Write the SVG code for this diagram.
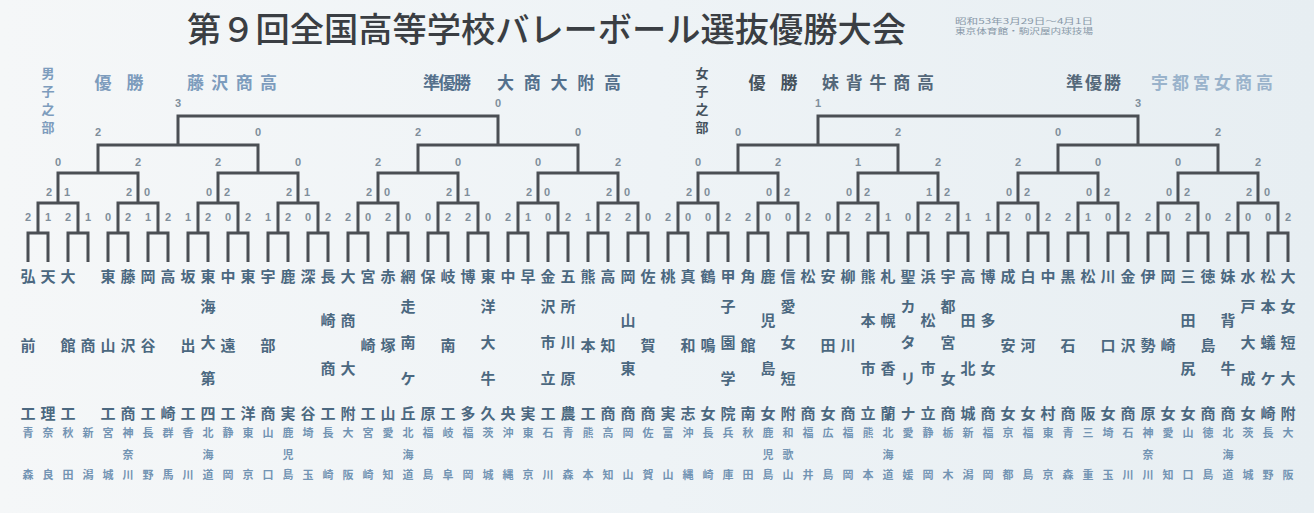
<svg xmlns="http://www.w3.org/2000/svg" width="1314" height="513" viewBox="0 0 1314 513">
<defs>
<linearGradient id="bg" x1="0" y1="0" x2="1" y2="0">
<stop offset="0" stop-color="#f5f7f8"/>
<stop offset="0.5" stop-color="#eef3f6"/>
<stop offset="1" stop-color="#e7eef2"/>
</linearGradient>
</defs>
<style>
.ti{font-family:"Noto Sans CJK JP","Noto Sans CJK SC",sans-serif;font-weight:500;fill:#3a3e43}
.hd{font-family:"Noto Sans CJK JP","Noto Sans CJK SC",sans-serif;font-weight:700;font-size:17px}
.hv{font-family:"Noto Sans CJK JP","Noto Sans CJK SC",sans-serif;font-weight:700;font-size:13px;text-anchor:middle}
.sm{font-family:"Noto Sans CJK JP","Noto Sans CJK SC",sans-serif;font-size:7.5px;fill:#8898a8}
.n{font-family:"Noto Sans CJK JP","Noto Sans CJK SC",sans-serif;font-weight:700;font-size:15px;fill:#4b6880;text-anchor:middle}
.p{font-family:"Noto Sans CJK JP","Noto Sans CJK SC",sans-serif;font-weight:700;font-size:11px;fill:#7394b3;text-anchor:middle}
.s{font-family:"Liberation Sans",sans-serif;font-weight:700;font-size:11px;fill:#7f8e9b;text-anchor:middle}
.ln{fill:none;stroke:#4b4f54;stroke-width:3;stroke-linejoin:miter}
.c{text-anchor:middle}
</style>
<rect width="1314" height="513" fill="url(#bg)"/>

<g id="title">
<text class="ti" x="187" y="42" font-size="34" textLength="719" lengthAdjust="spacingAndGlyphs">第９回全国高等学校バレーボール選抜優勝大会</text>
<text class="sm" x="955" y="24" textLength="138" lengthAdjust="spacingAndGlyphs">昭和53年3月29日～4月1日</text>
<text class="sm" x="955" y="34" textLength="138" lengthAdjust="spacingAndGlyphs">東京体育館・駒沢屋内球技場</text>
</g>

<g id="header-boys">
<text class="hv" fill="#7d9cbd"><tspan x="48" y="78">男</tspan><tspan x="48" y="96">子</tspan><tspan x="48" y="114">之</tspan><tspan x="48" y="132">部</tspan></text>
<text class="hd c" x="103" y="89" fill="#7d9cbd">優</text>
<text class="hd c" x="135" y="89" fill="#7d9cbd">勝</text>
<text class="hd" x="187" y="89" fill="#7d9cbd" textLength="90">藤沢商高</text>
<text class="hd" x="423" y="89" fill="#54708c" textLength="48">準優勝</text>
<text class="hd" x="497" y="89" fill="#54708c" textLength="124">大商大附高</text>
</g>
<g id="header-girls">
<text class="hv" fill="#45525d"><tspan x="702" y="78">女</tspan><tspan x="702" y="96">子</tspan><tspan x="702" y="114">之</tspan><tspan x="702" y="132">部</tspan></text>
<text class="hd c" x="757" y="89" fill="#45525d">優</text>
<text class="hd c" x="789" y="89" fill="#45525d">勝</text>
<text class="hd" x="822" y="89" fill="#54687a" textLength="112">妹背牛商高</text>
<text class="hd" x="1066" y="89" fill="#54687a" textLength="55">準優勝</text>
<text class="hd" x="1151" y="89" fill="#9ab3cb" textLength="122">宇都宮女商高</text>
</g>

<g id="connectors" class="ln">
<path d="M28 262V233H48V262M68 262V233H88V262M108 262V233H128V262M148 262V233H168V262M188 262V233H208V262M228 262V233H248V262M268 262V233H288V262M308 262V233H328V262M348 262V233H368V262M388 262V233H408V262M428 262V233H448V262M468 262V233H488V262M508 262V233H528V262M548 262V233H568V262M588 262V233H608V262M628 262V233H648V262"/>
<path d="M668 262V233H688V262M708 262V233H728V262M748 262V233H768V262M788 262V233H808V262M828 262V233H848V262M868 262V233H888V262M908 262V233H928V262M948 262V233H968V262M988 262V233H1008V262M1028 262V233H1048V262M1068 262V233H1088V262M1108 262V233H1128V262M1148 262V233H1168V262M1188 262V233H1208V262M1228 262V233H1248V262M1268 262V233H1288V262"/>
<path d="M38 233V203H78V233M118 233V203H158V233M198 233V203H238V233M278 233V203H318V233M358 233V203H398V233M438 233V203H478V233M518 233V203H558V233M598 233V203H638V233"/>
<path d="M678 233V203H718V233M758 233V203H798V233M838 233V203H878V233M918 233V203H958V233M998 233V203H1038V233M1078 233V203H1118V233M1158 233V203H1198V233M1238 233V203H1278V233"/>
<path d="M58 203V173H138V203M218 203V173H298V203M378 203V173H458V203M538 203V173H618V203M698 203V173H778V203M858 203V173H938V203M1018 203V173H1098V203M1178 203V173H1258V203"/>
<path d="M98 173V145H258V173M418 173V145H578V173M738 173V145H898V173M1058 173V145H1218V173"/>
<path d="M178 145V116H498V145M818 145V116H1138V145"/>
</g>

<g id="scores" class="s">
<text y="107"><tspan x="178">3</tspan><tspan x="498">0</tspan><tspan x="818">1</tspan><tspan x="1138">3</tspan></text>
<text y="136"><tspan x="98">2</tspan><tspan x="258">0</tspan><tspan x="418">2</tspan><tspan x="578">0</tspan><tspan x="738">0</tspan><tspan x="898">2</tspan><tspan x="1058">0</tspan><tspan x="1218">2</tspan></text>
<text y="166"><tspan x="58">0</tspan><tspan x="138">2</tspan><tspan x="218">2</tspan><tspan x="298">0</tspan><tspan x="378">2</tspan><tspan x="458">0</tspan><tspan x="538">0</tspan><tspan x="618">2</tspan><tspan x="698">0</tspan><tspan x="778">2</tspan><tspan x="858">1</tspan><tspan x="938">2</tspan><tspan x="1018">2</tspan><tspan x="1098">0</tspan><tspan x="1178">0</tspan><tspan x="1258">2</tspan></text>
<text y="196"><tspan x="49">2</tspan><tspan x="67">1</tspan><tspan x="129">2</tspan><tspan x="147">0</tspan><tspan x="209">0</tspan><tspan x="227">2</tspan><tspan x="289">2</tspan><tspan x="307">1</tspan><tspan x="369">2</tspan><tspan x="387">0</tspan><tspan x="449">2</tspan><tspan x="467">1</tspan><tspan x="529">2</tspan><tspan x="547">0</tspan><tspan x="609">2</tspan><tspan x="627">0</tspan><tspan x="689">2</tspan><tspan x="707">0</tspan><tspan x="769">0</tspan><tspan x="787">2</tspan><tspan x="849">0</tspan><tspan x="867">2</tspan><tspan x="929">1</tspan><tspan x="947">2</tspan><tspan x="1009">0</tspan><tspan x="1027">2</tspan><tspan x="1089">0</tspan><tspan x="1107">2</tspan><tspan x="1169">0</tspan><tspan x="1187">2</tspan><tspan x="1249">2</tspan><tspan x="1267">0</tspan></text>
<text y="221"><tspan x="28">2</tspan><tspan x="48">1</tspan><tspan x="68">2</tspan><tspan x="88">1</tspan><tspan x="108">0</tspan><tspan x="128">2</tspan><tspan x="148">1</tspan><tspan x="168">2</tspan><tspan x="188">1</tspan><tspan x="208">2</tspan><tspan x="228">0</tspan><tspan x="248">2</tspan><tspan x="268">1</tspan><tspan x="288">2</tspan><tspan x="308">0</tspan><tspan x="328">2</tspan><tspan x="348">2</tspan><tspan x="368">0</tspan><tspan x="388">2</tspan><tspan x="408">0</tspan><tspan x="428">0</tspan><tspan x="448">2</tspan><tspan x="468">2</tspan><tspan x="488">0</tspan><tspan x="508">2</tspan><tspan x="528">1</tspan><tspan x="548">0</tspan><tspan x="568">2</tspan><tspan x="588">1</tspan><tspan x="608">2</tspan><tspan x="628">2</tspan><tspan x="648">0</tspan><tspan x="668">2</tspan><tspan x="688">0</tspan><tspan x="708">0</tspan><tspan x="728">2</tspan><tspan x="748">2</tspan><tspan x="768">0</tspan><tspan x="788">0</tspan><tspan x="808">2</tspan><tspan x="828">0</tspan><tspan x="848">2</tspan><tspan x="868">2</tspan><tspan x="888">1</tspan><tspan x="908">0</tspan><tspan x="928">2</tspan><tspan x="948">2</tspan><tspan x="968">1</tspan><tspan x="988">1</tspan><tspan x="1008">2</tspan><tspan x="1028">0</tspan><tspan x="1048">2</tspan><tspan x="1068">2</tspan><tspan x="1088">1</tspan><tspan x="1108">0</tspan><tspan x="1128">2</tspan><tspan x="1148">2</tspan><tspan x="1168">0</tspan><tspan x="1188">2</tspan><tspan x="1208">0</tspan><tspan x="1228">2</tspan><tspan x="1248">0</tspan><tspan x="1268">0</tspan><tspan x="1288">2</tspan></text>
</g>

<g id="b00"><text class="n"><tspan x="28" y="282">弘</tspan><tspan x="28" y="351">前</tspan><tspan x="28" y="419">工</tspan></text><text class="p"><tspan x="28" y="437">青</tspan><tspan x="28" y="479">森</tspan></text></g>
<g id="b01"><text class="n"><tspan x="48" y="282">天</tspan><tspan x="48" y="419">理</tspan></text><text class="p"><tspan x="48" y="437">奈</tspan><tspan x="48" y="479">良</tspan></text></g>
<g id="b02"><text class="n"><tspan x="68" y="282">大</tspan><tspan x="68" y="351">館</tspan><tspan x="68" y="419">工</tspan></text><text class="p"><tspan x="68" y="437">秋</tspan><tspan x="68" y="479">田</tspan></text></g>
<g id="b03"><text class="n"><tspan x="88" y="351">商</tspan></text><text class="p"><tspan x="88" y="437">新</tspan><tspan x="88" y="479">潟</tspan></text></g>
<g id="b04"><text class="n"><tspan x="108" y="282">東</tspan><tspan x="108" y="351">山</tspan><tspan x="108" y="419">工</tspan></text><text class="p"><tspan x="108" y="437">宮</tspan><tspan x="108" y="479">城</tspan></text></g>
<g id="b05"><text class="n"><tspan x="128" y="282">藤</tspan><tspan x="128" y="351">沢</tspan><tspan x="128" y="419">商</tspan></text><text class="p"><tspan x="128" y="437">神</tspan><tspan x="128" y="459">奈</tspan><tspan x="128" y="479">川</tspan></text></g>
<g id="b06"><text class="n"><tspan x="148" y="282">岡</tspan><tspan x="148" y="351">谷</tspan><tspan x="148" y="419">工</tspan></text><text class="p"><tspan x="148" y="437">長</tspan><tspan x="148" y="479">野</tspan></text></g>
<g id="b07"><text class="n"><tspan x="168" y="282">高</tspan><tspan x="168" y="419">崎</tspan></text><text class="p"><tspan x="168" y="437">群</tspan><tspan x="168" y="479">馬</tspan></text></g>
<g id="b08"><text class="n"><tspan x="188" y="282">坂</tspan><tspan x="188" y="351">出</tspan><tspan x="188" y="419">工</tspan></text><text class="p"><tspan x="188" y="437">香</tspan><tspan x="188" y="479">川</tspan></text></g>
<g id="b09"><text class="n"><tspan x="208" y="282">東</tspan><tspan x="208" y="312">海</tspan><tspan x="208" y="348">大</tspan><tspan x="208" y="384">第</tspan><tspan x="208" y="419">四</tspan></text><text class="p"><tspan x="208" y="437">北</tspan><tspan x="208" y="459">海</tspan><tspan x="208" y="479">道</tspan></text></g>
<g id="b10"><text class="n"><tspan x="228" y="282">中</tspan><tspan x="228" y="351">遠</tspan><tspan x="228" y="419">工</tspan></text><text class="p"><tspan x="228" y="437">静</tspan><tspan x="228" y="479">岡</tspan></text></g>
<g id="b11"><text class="n"><tspan x="248" y="282">東</tspan><tspan x="248" y="419">洋</tspan></text><text class="p"><tspan x="248" y="437">東</tspan><tspan x="248" y="479">京</tspan></text></g>
<g id="b12"><text class="n"><tspan x="268" y="282">宇</tspan><tspan x="268" y="351">部</tspan><tspan x="268" y="419">商</tspan></text><text class="p"><tspan x="268" y="437">山</tspan><tspan x="268" y="479">口</tspan></text></g>
<g id="b13"><text class="n"><tspan x="288" y="282">鹿</tspan><tspan x="288" y="419">実</tspan></text><text class="p"><tspan x="288" y="437">鹿</tspan><tspan x="288" y="459">児</tspan><tspan x="288" y="479">島</tspan></text></g>
<g id="b14"><text class="n"><tspan x="308" y="282">深</tspan><tspan x="308" y="419">谷</tspan></text><text class="p"><tspan x="308" y="437">埼</tspan><tspan x="308" y="479">玉</tspan></text></g>
<g id="b15"><text class="n"><tspan x="328" y="282">長</tspan><tspan x="328" y="326">崎</tspan><tspan x="328" y="374">商</tspan><tspan x="328" y="419">工</tspan></text><text class="p"><tspan x="328" y="437">長</tspan><tspan x="328" y="479">崎</tspan></text></g>
<g id="b16"><text class="n"><tspan x="348" y="282">大</tspan><tspan x="348" y="326">商</tspan><tspan x="348" y="374">大</tspan><tspan x="348" y="419">附</tspan></text><text class="p"><tspan x="348" y="437">大</tspan><tspan x="348" y="479">阪</tspan></text></g>
<g id="b17"><text class="n"><tspan x="368" y="282">宮</tspan><tspan x="368" y="351">崎</tspan><tspan x="368" y="419">工</tspan></text><text class="p"><tspan x="368" y="437">宮</tspan><tspan x="368" y="479">崎</tspan></text></g>
<g id="b18"><text class="n"><tspan x="388" y="282">赤</tspan><tspan x="388" y="351">塚</tspan><tspan x="388" y="419">山</tspan></text><text class="p"><tspan x="388" y="437">愛</tspan><tspan x="388" y="479">知</tspan></text></g>
<g id="b19"><text class="n"><tspan x="408" y="282">網</tspan><tspan x="408" y="312">走</tspan><tspan x="408" y="348">南</tspan><tspan x="408" y="384">ケ</tspan><tspan x="408" y="419">丘</tspan></text><text class="p"><tspan x="408" y="437">北</tspan><tspan x="408" y="459">海</tspan><tspan x="408" y="479">道</tspan></text></g>
<g id="b20"><text class="n"><tspan x="428" y="282">保</tspan><tspan x="428" y="419">原</tspan></text><text class="p"><tspan x="428" y="437">福</tspan><tspan x="428" y="479">島</tspan></text></g>
<g id="b21"><text class="n"><tspan x="448" y="282">岐</tspan><tspan x="448" y="351">南</tspan><tspan x="448" y="419">工</tspan></text><text class="p"><tspan x="448" y="437">岐</tspan><tspan x="448" y="479">阜</tspan></text></g>
<g id="b22"><text class="n"><tspan x="468" y="282">博</tspan><tspan x="468" y="419">多</tspan></text><text class="p"><tspan x="468" y="437">福</tspan><tspan x="468" y="479">岡</tspan></text></g>
<g id="b23"><text class="n"><tspan x="488" y="282">東</tspan><tspan x="488" y="312">洋</tspan><tspan x="488" y="348">大</tspan><tspan x="488" y="384">牛</tspan><tspan x="488" y="419">久</tspan></text><text class="p"><tspan x="488" y="437">茨</tspan><tspan x="488" y="479">城</tspan></text></g>
<g id="b24"><text class="n"><tspan x="508" y="282">中</tspan><tspan x="508" y="419">央</tspan></text><text class="p"><tspan x="508" y="437">沖</tspan><tspan x="508" y="479">縄</tspan></text></g>
<g id="b25"><text class="n"><tspan x="528" y="282">早</tspan><tspan x="528" y="419">実</tspan></text><text class="p"><tspan x="528" y="437">東</tspan><tspan x="528" y="479">京</tspan></text></g>
<g id="b26"><text class="n"><tspan x="548" y="282">金</tspan><tspan x="548" y="312">沢</tspan><tspan x="548" y="348">市</tspan><tspan x="548" y="384">立</tspan><tspan x="548" y="419">工</tspan></text><text class="p"><tspan x="548" y="437">石</tspan><tspan x="548" y="479">川</tspan></text></g>
<g id="b27"><text class="n"><tspan x="568" y="282">五</tspan><tspan x="568" y="312">所</tspan><tspan x="568" y="348">川</tspan><tspan x="568" y="384">原</tspan><tspan x="568" y="419">農</tspan></text><text class="p"><tspan x="568" y="437">青</tspan><tspan x="568" y="479">森</tspan></text></g>
<g id="b28"><text class="n"><tspan x="588" y="282">熊</tspan><tspan x="588" y="351">本</tspan><tspan x="588" y="419">工</tspan></text><text class="p"><tspan x="588" y="437">熊</tspan><tspan x="588" y="479">本</tspan></text></g>
<g id="b29"><text class="n"><tspan x="608" y="282">高</tspan><tspan x="608" y="351">知</tspan><tspan x="608" y="419">商</tspan></text><text class="p"><tspan x="608" y="437">高</tspan><tspan x="608" y="479">知</tspan></text></g>
<g id="b30"><text class="n"><tspan x="628" y="282">岡</tspan><tspan x="628" y="326">山</tspan><tspan x="628" y="374">東</tspan><tspan x="628" y="419">商</tspan></text><text class="p"><tspan x="628" y="437">岡</tspan><tspan x="628" y="479">山</tspan></text></g>
<g id="b31"><text class="n"><tspan x="648" y="282">佐</tspan><tspan x="648" y="351">賀</tspan><tspan x="648" y="419">商</tspan></text><text class="p"><tspan x="648" y="437">佐</tspan><tspan x="648" y="479">賀</tspan></text></g>

<g id="g32"><text class="n"><tspan x="668" y="282">桃</tspan><tspan x="668" y="419">実</tspan></text><text class="p"><tspan x="668" y="437">富</tspan><tspan x="668" y="479">山</tspan></text></g>
<g id="g33"><text class="n"><tspan x="688" y="282">真</tspan><tspan x="688" y="351">和</tspan><tspan x="688" y="419">志</tspan></text><text class="p"><tspan x="688" y="437">沖</tspan><tspan x="688" y="479">縄</tspan></text></g>
<g id="g34"><text class="n"><tspan x="708" y="282">鶴</tspan><tspan x="708" y="351">鳴</tspan><tspan x="708" y="419">女</tspan></text><text class="p"><tspan x="708" y="437">長</tspan><tspan x="708" y="479">崎</tspan></text></g>
<g id="g35"><text class="n"><tspan x="728" y="282">甲</tspan><tspan x="728" y="312">子</tspan><tspan x="728" y="348">園</tspan><tspan x="728" y="384">学</tspan><tspan x="728" y="419">院</tspan></text><text class="p"><tspan x="728" y="437">兵</tspan><tspan x="728" y="479">庫</tspan></text></g>
<g id="g36"><text class="n"><tspan x="748" y="282">角</tspan><tspan x="748" y="351">館</tspan><tspan x="748" y="419">南</tspan></text><text class="p"><tspan x="748" y="437">秋</tspan><tspan x="748" y="479">田</tspan></text></g>
<g id="g37"><text class="n"><tspan x="768" y="282">鹿</tspan><tspan x="768" y="326">児</tspan><tspan x="768" y="374">島</tspan><tspan x="768" y="419">女</tspan></text><text class="p"><tspan x="768" y="437">鹿</tspan><tspan x="768" y="459">児</tspan><tspan x="768" y="479">島</tspan></text></g>
<g id="g38"><text class="n"><tspan x="788" y="282">信</tspan><tspan x="788" y="312">愛</tspan><tspan x="788" y="348">女</tspan><tspan x="788" y="384">短</tspan><tspan x="788" y="419">附</tspan></text><text class="p"><tspan x="788" y="437">和</tspan><tspan x="788" y="459">歌</tspan><tspan x="788" y="479">山</tspan></text></g>
<g id="g39"><text class="n"><tspan x="808" y="282">松</tspan><tspan x="808" y="419">商</tspan></text><text class="p"><tspan x="808" y="437">福</tspan><tspan x="808" y="479">井</tspan></text></g>
<g id="g40"><text class="n"><tspan x="828" y="282">安</tspan><tspan x="828" y="351">田</tspan><tspan x="828" y="419">女</tspan></text><text class="p"><tspan x="828" y="437">広</tspan><tspan x="828" y="479">島</tspan></text></g>
<g id="g41"><text class="n"><tspan x="848" y="282">柳</tspan><tspan x="848" y="351">川</tspan><tspan x="848" y="419">商</tspan></text><text class="p"><tspan x="848" y="437">福</tspan><tspan x="848" y="479">岡</tspan></text></g>
<g id="g42"><text class="n"><tspan x="868" y="282">熊</tspan><tspan x="868" y="326">本</tspan><tspan x="868" y="374">市</tspan><tspan x="868" y="419">立</tspan></text><text class="p"><tspan x="868" y="437">熊</tspan><tspan x="868" y="479">本</tspan></text></g>
<g id="g43"><text class="n"><tspan x="888" y="282">札</tspan><tspan x="888" y="326">幌</tspan><tspan x="888" y="374">香</tspan><tspan x="888" y="419">蘭</tspan></text><text class="p"><tspan x="888" y="437">北</tspan><tspan x="888" y="459">海</tspan><tspan x="888" y="479">道</tspan></text></g>
<g id="g44"><text class="n"><tspan x="908" y="282">聖</tspan><tspan x="908" y="312">カ</tspan><tspan x="908" y="348">タ</tspan><tspan x="908" y="384">リ</tspan><tspan x="908" y="419">ナ</tspan></text><text class="p"><tspan x="908" y="437">愛</tspan><tspan x="908" y="479">媛</tspan></text></g>
<g id="g45"><text class="n"><tspan x="928" y="282">浜</tspan><tspan x="928" y="326">松</tspan><tspan x="928" y="374">市</tspan><tspan x="928" y="419">立</tspan></text><text class="p"><tspan x="928" y="437">静</tspan><tspan x="928" y="479">岡</tspan></text></g>
<g id="g46"><text class="n"><tspan x="948" y="282">宇</tspan><tspan x="948" y="312">都</tspan><tspan x="948" y="348">宮</tspan><tspan x="948" y="384">女</tspan><tspan x="948" y="419">商</tspan></text><text class="p"><tspan x="948" y="437">栃</tspan><tspan x="948" y="479">木</tspan></text></g>
<g id="g47"><text class="n"><tspan x="968" y="282">高</tspan><tspan x="968" y="326">田</tspan><tspan x="968" y="374">北</tspan><tspan x="968" y="419">城</tspan></text><text class="p"><tspan x="968" y="437">新</tspan><tspan x="968" y="479">潟</tspan></text></g>
<g id="g48"><text class="n"><tspan x="988" y="282">博</tspan><tspan x="988" y="326">多</tspan><tspan x="988" y="374">女</tspan><tspan x="988" y="419">商</tspan></text><text class="p"><tspan x="988" y="437">福</tspan><tspan x="988" y="479">岡</tspan></text></g>
<g id="g49"><text class="n"><tspan x="1008" y="282">成</tspan><tspan x="1008" y="351">安</tspan><tspan x="1008" y="419">女</tspan></text><text class="p"><tspan x="1008" y="437">京</tspan><tspan x="1008" y="479">都</tspan></text></g>
<g id="g50"><text class="n"><tspan x="1028" y="282">白</tspan><tspan x="1028" y="351">河</tspan><tspan x="1028" y="419">女</tspan></text><text class="p"><tspan x="1028" y="437">福</tspan><tspan x="1028" y="479">島</tspan></text></g>
<g id="g51"><text class="n"><tspan x="1048" y="282">中</tspan><tspan x="1048" y="419">村</tspan></text><text class="p"><tspan x="1048" y="437">東</tspan><tspan x="1048" y="479">京</tspan></text></g>
<g id="g52"><text class="n"><tspan x="1068" y="282">黒</tspan><tspan x="1068" y="351">石</tspan><tspan x="1068" y="419">商</tspan></text><text class="p"><tspan x="1068" y="437">青</tspan><tspan x="1068" y="479">森</tspan></text></g>
<g id="g53"><text class="n"><tspan x="1088" y="282">松</tspan><tspan x="1088" y="419">阪</tspan></text><text class="p"><tspan x="1088" y="437">三</tspan><tspan x="1088" y="479">重</tspan></text></g>
<g id="g54"><text class="n"><tspan x="1108" y="282">川</tspan><tspan x="1108" y="351">口</tspan><tspan x="1108" y="419">女</tspan></text><text class="p"><tspan x="1108" y="437">埼</tspan><tspan x="1108" y="479">玉</tspan></text></g>
<g id="g55"><text class="n"><tspan x="1128" y="282">金</tspan><tspan x="1128" y="351">沢</tspan><tspan x="1128" y="419">商</tspan></text><text class="p"><tspan x="1128" y="437">石</tspan><tspan x="1128" y="479">川</tspan></text></g>
<g id="g56"><text class="n"><tspan x="1148" y="282">伊</tspan><tspan x="1148" y="351">勢</tspan><tspan x="1148" y="419">原</tspan></text><text class="p"><tspan x="1148" y="437">神</tspan><tspan x="1148" y="459">奈</tspan><tspan x="1148" y="479">川</tspan></text></g>
<g id="g57"><text class="n"><tspan x="1168" y="282">岡</tspan><tspan x="1168" y="351">崎</tspan><tspan x="1168" y="419">女</tspan></text><text class="p"><tspan x="1168" y="437">愛</tspan><tspan x="1168" y="479">知</tspan></text></g>
<g id="g58"><text class="n"><tspan x="1188" y="282">三</tspan><tspan x="1188" y="326">田</tspan><tspan x="1188" y="374">尻</tspan><tspan x="1188" y="419">女</tspan></text><text class="p"><tspan x="1188" y="437">山</tspan><tspan x="1188" y="479">口</tspan></text></g>
<g id="g59"><text class="n"><tspan x="1208" y="282">徳</tspan><tspan x="1208" y="351">島</tspan><tspan x="1208" y="419">商</tspan></text><text class="p"><tspan x="1208" y="437">徳</tspan><tspan x="1208" y="479">島</tspan></text></g>
<g id="g60"><text class="n"><tspan x="1228" y="282">妹</tspan><tspan x="1228" y="326">背</tspan><tspan x="1228" y="374">牛</tspan><tspan x="1228" y="419">商</tspan></text><text class="p"><tspan x="1228" y="437">北</tspan><tspan x="1228" y="459">海</tspan><tspan x="1228" y="479">道</tspan></text></g>
<g id="g61"><text class="n"><tspan x="1248" y="282">水</tspan><tspan x="1248" y="312">戸</tspan><tspan x="1248" y="348">大</tspan><tspan x="1248" y="384">成</tspan><tspan x="1248" y="419">女</tspan></text><text class="p"><tspan x="1248" y="437">茨</tspan><tspan x="1248" y="479">城</tspan></text></g>
<g id="g62"><text class="n"><tspan x="1268" y="282">松</tspan><tspan x="1268" y="312">本</tspan><tspan x="1268" y="348">蟻</tspan><tspan x="1268" y="384">ケ</tspan><tspan x="1268" y="419">崎</tspan></text><text class="p"><tspan x="1268" y="437">長</tspan><tspan x="1268" y="479">野</tspan></text></g>
<g id="g63"><text class="n"><tspan x="1288" y="282">大</tspan><tspan x="1288" y="312">女</tspan><tspan x="1288" y="348">短</tspan><tspan x="1288" y="384">大</tspan><tspan x="1288" y="419">附</tspan></text><text class="p"><tspan x="1288" y="437">大</tspan><tspan x="1288" y="479">阪</tspan></text></g>
</svg>
